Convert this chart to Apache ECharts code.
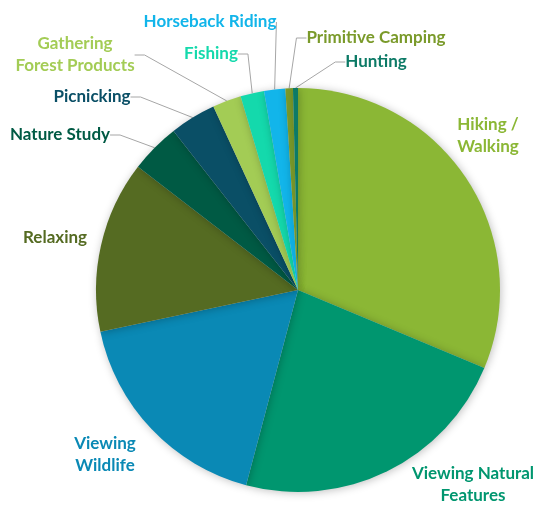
<!DOCTYPE html>
<html><head><meta charset="utf-8">
<script src="https://cdn.jsdelivr.net/npm/echarts@6/dist/echarts.min.js"></script>
<style>html,body{margin:0;padding:0;background:#fff}#c{width:536px;height:505px}</style>
</head><body><div id="c"></div>
<script>
const categories = ['Hiking /\nWalking','Viewing Natural\nFeatures','Viewing\nWildlife','Relaxing','Nature Study','Picnicking','Gathering\nForest Products','Fishing','Horseback Riding','Primitive Camping','Hunting'];
const values = [31.4, 22.9, 17.6, 13.8, 4.0, 3.7, 2.3, 1.9, 1.7, 0.6, 0.4];
const colors = ['#8BB735','#00966F','#0A89B5','#556B22','#005A44','#0A4F66','#A3CC55','#14D9AC','#12B5EA','#7A9A2A','#0C7A66'];
const noLine = [true, true, true, true, false, false, false, false, false, false, false];
const labelPos = [[488,136],[473,485],[105,455],[55,238],[60,135],[92,97],[75,55],[211,54],[210,22],[376,38],[376,62]];

const chart = echarts.init(document.getElementById('c'));
chart.setOption({
  animation: false,
  series: [{
    type: 'pie',
    center: [298, 290],
    radius: 202,
    startAngle: 90,
    clockwise: true,
    avoidLabelOverlap: false,
    itemStyle: { shadowBlur: 8, shadowColor: 'rgba(0,0,0,0.25)', shadowOffsetX: 1, shadowOffsetY: 1 },
    label: {
      show: true, position: 'outside',
      fontFamily: 'Lato', fontWeight: 'bold', fontSize: 17, lineHeight: 22, align: 'center'
    },
    labelLine: { show: true, length: 10, length2: 10, smooth: false, lineStyle: { color: '#a6a6a6', width: 1 } },
    labelLayout: function (p) {
      const pos = labelPos[p.dataIndex];
      return { x: pos[0], y: pos[1], align: 'center', verticalAlign: 'middle', hideOverlap: false, moveOverlap: null };
    },
    data: categories.map((n, i) => ({
      name: n, value: values[i],
      itemStyle: { color: colors[i] },
      label: { color: colors[i] },
      labelLine: { show: !noLine[i] }
    }))
  }]
});
</script></body></html>
